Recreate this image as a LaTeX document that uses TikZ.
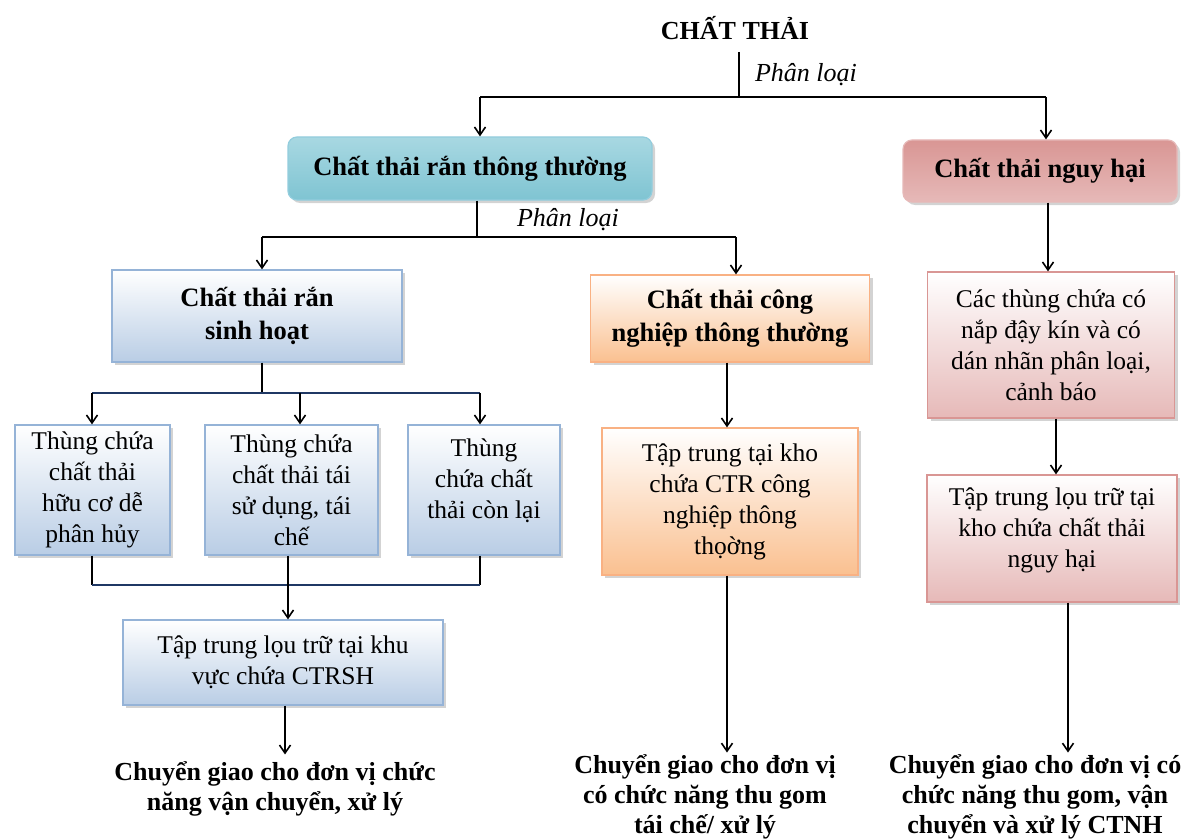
\documentclass[tikz,border=0pt]{standalone}
\usepackage{fontspec}
\setmainfont{Liberation Serif}
\usepackage{tikz}
\usetikzlibrary{shadows,arrows.meta,calc}

\definecolor{tealtop}{HTML}{A8D8E2}
\definecolor{tealmid}{HTML}{E4F3F6}
\definecolor{tealbot}{HTML}{7FC4D2}
\definecolor{tealline}{HTML}{93CDDD}
\definecolor{redtop}{HTML}{D99694}
\definecolor{redmid}{HTML}{F6E4E4}
\definecolor{redbot}{HTML}{E6B9B8}
\definecolor{bluebot}{HTML}{B9CDE5}
\definecolor{blueline}{HTML}{95B3D7}
\definecolor{orangebot}{HTML}{FAC090}
\definecolor{orangeline}{HTML}{F9B183}
\definecolor{pinkbot}{HTML}{E6B9B8}
\definecolor{pinkline}{HTML}{D99694}
\definecolor{joinblue}{HTML}{1F3864}

\tikzset{
  box/.style={rectangle, align=center, inner sep=0pt, line width=1.2pt,
    drop shadow={shadow xshift=3pt, shadow yshift=-3pt, opacity=0.35, fill=gray},
    font=\fontsize{25.5}{31}\selectfont},
  headtxt/.style={font=\bfseries\fontsize{26.5}{33}\selectfont},
  tealbox/.style={box, headtxt, rounded corners=9pt, draw=tealline,
    top color=tealtop, middle color=tealmid, bottom color=tealbot},
  redbox/.style={box, headtxt, rounded corners=9pt, draw=redbot,
    top color=redtop, middle color=redmid, bottom color=redbot},
  bluebox/.style={box, draw=blueline, top color=white, bottom color=bluebot},
  orangebox/.style={box, draw=orangeline, top color=white, bottom color=orangebot},
  pinkbox/.style={box, draw=pinkline, top color=white, bottom color=pinkbot},
  outtxt/.style={align=center, inner sep=2pt, font=\bfseries\fontsize{26}{30}\selectfont},
  lbl/.style={inner sep=0pt, font=\itshape\fontsize{26}{30}\selectfont},
  arr/.style={-{Straight Barb[length=8pt,width=11pt]}, line width=1.6pt},
  ln/.style={line width=1.6pt}
}

\begin{document}
\begin{tikzpicture}[x=1pt,y=-1pt]
\useasboundingbox (0,0) rectangle (1183,840);

%% level 0
\node[inner sep=0pt, font=\bfseries\fontsize{26}{30}\selectfont] (title) at (735,28) {CHẤT THẢI};

%% level 1
\node[tealbox, minimum width=364pt, minimum height=63pt] (rantt) at (470,168.5) {Chất thải rắn thông thường};
\node[redbox, minimum width=274pt, minimum height=62pt] (nguyhai) at (1040,171) {Chất thải nguy hại};

%% level 2
\node[bluebox, headtxt, minimum width=290pt, minimum height=92pt] (sinhhoat) at (257,316) {Chất thải rắn\\sinh hoạt};
\node[orangebox, headtxt, minimum width=279pt, minimum height=87pt] (congnghiep) at (730,318.5) {Chất thải công\\nghiệp thông thường};
\node[pinkbox, minimum width=247pt, minimum height=146pt] (thungnh) at (1051,345) {Các thùng chứa có\\nắp đậy kín và có\\dán nhãn phân loại,\\cảnh báo};

%% level 3
\node[bluebox, minimum width=155pt, minimum height=130pt] (huuco) at (92.5,490) {Thùng chứa\\chất thải\\hữu cơ dễ\\phân hủy};
\node[bluebox, minimum width=173pt, minimum height=130pt] (taiche) at (291.5,490) {Thùng chứa\\chất thải tái\\sử dụng, tái\\chế};
\node[bluebox, minimum width=152pt, minimum height=130pt] (conlai) at (484,490) {Thùng\\chứa chất\\thải còn lại\\[-9pt]};
\node[orangebox, minimum width=256pt, minimum height=147pt] (khocn) at (730,501.5) {Tập trung tại kho\\chứa CTR công\\nghiệp thông\\thọờng};
\node[pinkbox, minimum width=250pt, minimum height=127pt] (khonh) at (1052,538.5) {Tập trung lọu trữ tại\\kho chứa chất thải\\nguy hại\\[-10pt]};

%% level 4
\node[bluebox, minimum width=320pt, minimum height=85pt] (khush) at (283,662.5) {Tập trung lọu trữ tại khu\\vực chứa CTRSH};

%% outputs
\node[outtxt] (out1) at (275,789) {Chuyển giao cho đơn vị chức\\năng vận chuyển, xử lý};
\node[outtxt] (out2) at (705,797) {Chuyển giao cho đơn vị\\có chức năng thu gom\\tái chế/ xử lý};
\node[outtxt] (out3) at (1035,797) {Chuyển giao cho đơn vị có\\chức năng thu gom, vận\\chuyển và xử lý CTNH};

%% split points
\coordinate (s1) at (739,97);
\coordinate (s1l) at (480,97);
\coordinate (s1r) at (1046,97);
\coordinate (s2) at (477,237);
\coordinate (s2l) at (262,237);
\coordinate (s2r) at (736,237);
\coordinate (s3) at (262,393);
\coordinate (s3l) at (92,393);
\coordinate (s3m) at (300,393);
\coordinate (s3r) at (480,393);
\coordinate (j1) at (92,585);
\coordinate (jm) at (288,585);
\coordinate (j2) at (480,585);

\node[lbl] (pl1) at (806,75) {Phân loại};
\node[lbl] (pl2) at (568,220) {Phân loại};

%% connectors
\draw[ln] ([yshift=-12pt]title.south -| s1) -- (s1);
\draw[ln] (s1l) -- (s1r);
\draw[arr] (s1l) -- (s1l |- rantt.north);
\draw[arr] (s1r) -- (s1r |- nguyhai.north);

\draw[ln] (s2 |- rantt.south) -- (s2);
\draw[ln] (s2l) -- (s2r);
\draw[arr] (s2l) -- (s2l |- sinhhoat.north);
\draw[arr] (s2r) -- (s2r |- congnghiep.north);

\draw[ln] (s3 |- sinhhoat.south) -- (s3);
\draw[ln, joinblue] (s3l) -- (s3r);
\draw[arr] (s3l) -- (s3l |- huuco.north);
\draw[arr] (s3m) -- (s3m |- taiche.north);
\draw[arr] (s3r) -- (s3r |- conlai.north);

\draw[ln] (j1 |- huuco.south) -- (j1);
\draw[ln] (j2 |- conlai.south) -- (j2);
\draw[ln, joinblue] (j1) -- (j2);
\draw[arr] (jm |- taiche.south) -- (jm |- khush.north);
\draw[arr] ([xshift=2pt]khush.south) -- ([xshift=2pt,yshift=5pt]khush.south |- out1.north);

\draw[arr] ([xshift=-3pt]congnghiep.south) -- ([xshift=-3pt]congnghiep.south |- khocn.north);
\draw[arr] ([xshift=-3pt]khocn.south) -- ([xshift=-3pt]khocn.south |- out2.north);

\draw[arr] ([xshift=8pt]nguyhai.south) -- ([xshift=8pt]nguyhai.south |- thungnh.north);
\draw[arr] ([xshift=5pt]thungnh.south) -- ([xshift=5pt]thungnh.south |- khonh.north);
\draw[arr] ([xshift=16pt]khonh.south) -- ([xshift=16pt]khonh.south |- out3.north);

\end{tikzpicture}
\end{document}
